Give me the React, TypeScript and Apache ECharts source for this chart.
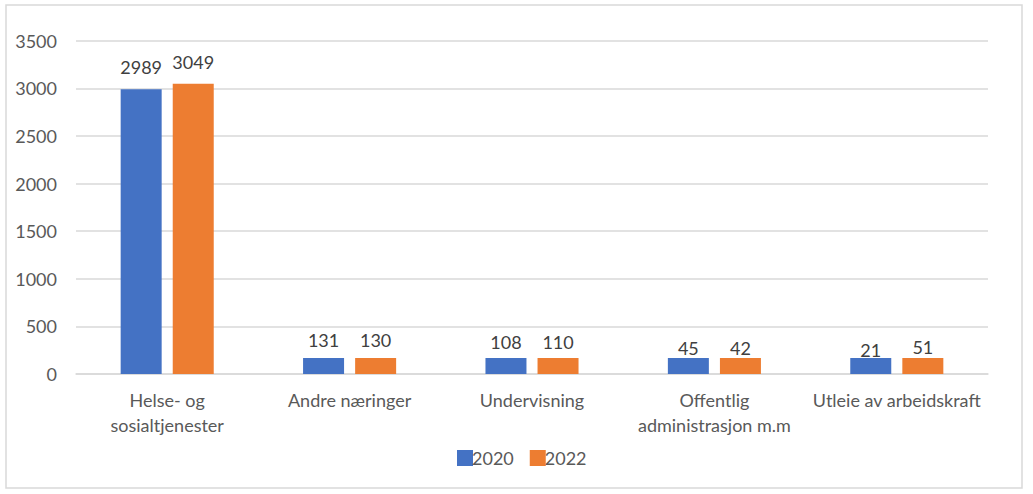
import React, { useEffect, useRef } from "react";
import * as echarts from "echarts";

const categories = [
  "Helse- og\nsosialtjenester",
  "Andre næringer",
  "Undervisning",
  "Offentlig\nadministrasjon m.m",
  "Utleie av arbeidskraft",
];
const seriesNames = ["2020", "2022"];
// values shown in the data labels
const values2020 = [2989, 131, 108, 45, 21];
const values2022 = [3049, 130, 110, 42, 51];
// heights at which the bars are drawn in the reference picture
const drawn2020 = [2989, 168, 168, 168, 168];
const drawn2022 = [3049, 168, 168, 168, 168];
const yTicks = { min: 0, max: 3500, interval: 500 };

const FONT = "Lato";
const FS = 18;

export default function App() {
  const ref = useRef<HTMLDivElement>(null);
  useEffect(() => {
    if (!ref.current) return;
    const chart = echarts.init(ref.current, null, { renderer: "svg" });
    const barWidth = 41;
    const barGap = "27%";
    const labelSeries = (name: string, vals: number[]) => ({
      name: name + "-label",
      type: "bar",
      xAxisIndex: 1,
      data: vals,
      barWidth,
      barGap,
      itemStyle: { color: "rgba(0,0,0,0)" },
      label: {
        show: true,
        position: "top",
        distance: 13,
        color: "#404040",
        fontSize: FS,
        fontFamily: FONT,
      },
      silent: true,
    });
    chart.setOption({
      animation: false,
      textStyle: { fontFamily: FONT },
      graphic: [
        {
          type: "rect",
          shape: { x: 6, y: 5, width: 1016, height: 483 },
          style: { fill: "none", stroke: "#d9d9d9", lineWidth: 1.5 },
          silent: true,
        },
      ],
      grid: { left: 76, right: 45, top: 40.7, bottom: 120 },
      legend: {
        data: seriesNames,
        left: 452,
        top: 444,
        itemWidth: 16,
        itemHeight: 16,
        itemGap: 16,
        icon: "rect",
        textStyle: {
          color: "#595959",
          fontSize: FS,
          fontFamily: FONT,
          padding: [0, 0, 0, -6],
        },
        selectedMode: false,
      },
      xAxis: [
        {
          type: "category",
          data: categories,
          axisLine: { lineStyle: { color: "#d9d9d9", width: 1.5 } },
          axisTick: { show: false },
          axisLabel: {
            interval: 0,
            color: "#595959",
            fontSize: FS,
            fontFamily: FONT,
            margin: 13,
            lineHeight: 25,
          },
        },
        {
          type: "category",
          data: categories,
          show: false,
        },
      ],
      yAxis: {
        type: "value",
        min: yTicks.min,
        max: yTicks.max,
        interval: yTicks.interval,
        axisLine: { show: false },
        axisTick: { show: false },
        splitLine: { lineStyle: { color: "#d9d9d9", width: 1.5 } },
        axisLabel: {
          color: "#595959",
          fontSize: FS,
          fontFamily: FONT,
          margin: 19,
          formatter: (v: number) => String(v),
        },
      },
      series: [
        {
          name: seriesNames[0],
          type: "bar",
          data: drawn2020,
          barWidth,
          barGap,
          itemStyle: { color: "#4472C4" },
        },
        {
          name: seriesNames[1],
          type: "bar",
          data: drawn2022,
          barWidth,
          barGap,
          itemStyle: { color: "#ED7D31" },
        },
        labelSeries(seriesNames[0], values2020),
        labelSeries(seriesNames[1], values2022),
      ],
    });
    return () => chart.dispose();
  }, []);
  return (
    <div
      ref={ref}
      style={{ position: "fixed", left: 0, top: 0, width: 1033, height: 494, background: "#fff" }}
    />
  );
}
